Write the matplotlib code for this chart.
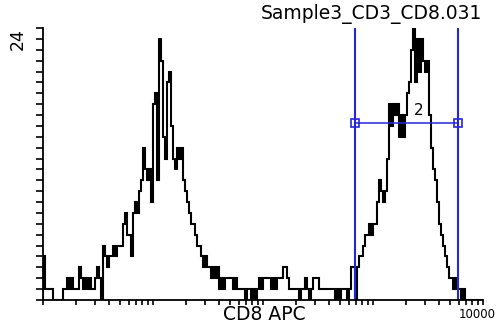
import numpy as np
import matplotlib
matplotlib.use("Agg")
import matplotlib.pyplot as plt
import matplotlib.transforms as mtransforms
from matplotlib.ticker import FixedLocator, FixedFormatter, NullFormatter

# ---- data (counts per log-spaced channel, 220 channels from 1 to 10000) ----
counts_a = [4, 1, 1, 1, 1, 0, 0, 0, 0, 0, 1, 1, 2, 1, 2, 1, 1, 1, 3, 2,
            1, 2, 1, 2, 1, 1, 2, 3, 2, 0]
counts_b = [5, 4, 3, 4, 4, 5, 4, 5, 5, 5, 7, 8, 6, 6, 4, 8, 9, 8, 10, 11,
            14, 12, 11, 12, 9, 18, 19, 11, 24, 22]
counts_c = [15, 13, 20, 21, 16, 13, 12, 14, 13, 14, 11, 10, 9, 8, 7, 7, 6, 5, 5, 4,
            3, 4, 3, 3, 2, 3, 2, 3, 1, 2]
counts_d = [1, 2, 2, 2, 2, 1, 2, 1, 1, 1, 1, 0, 1, 1, 0, 1, 0, 1, 2, 1,
            2, 2, 2, 2, 1, 2, 1, 2, 2, 2]
counts_e = [3, 3, 2, 1, 1, 1, 1, 1, 0, 1, 1, 2, 1, 0, 1, 2, 2, 2, 1, 1,
            1, 1, 1, 1, 1, 1, 0, 1, 0, 1]
counts_f = [1, 1, 0, 1, 3, 3, 0, 3, 4, 4, 5, 6, 6, 7, 6, 7, 7, 9, 11, 10,
            9, 10, 13, 18, 16, 18, 17, 18, 15, 17]
counts_g = [15, 17, 19, 20, 23, 25, 20, 24, 21, 24, 22, 21, 22, 17, 14, 12, 11, 9, 7, 6,
            5, 4, 3, 2, 2, 1, 2, 1, 1, 0, 1, 0, 0, 0, 0, 0, 0, 0, 0, 0]

x_min, x_max = 1, 10000
y_max = 25
gate_low, gate_high = 686, 5930
gate_level = 16.3
gate_name = "2"
title = "Sample3_CD3_CD8.031"
xlabel = "CD8 APC"
y_label_ticks = [24]
y_label_texts = ["24"]
x_label_ticks = [10000]
x_label_texts = ["10000"]

counts = np.array(counts_a + counts_b + counts_c + counts_d + counts_e + counts_f + counts_g)
edges = np.logspace(np.log10(x_min), np.log10(x_max), len(counts) + 1)

W, H = 498, 324
fig = plt.figure(figsize=(W / 100, H / 100), dpi=100)
fig.patch.set_facecolor("white")
ax = fig.add_axes([43 / W, (H - 300) / H, 440 / W, 272 / H])

ax.stairs(counts, edges, color="black", linewidth=1.5, baseline=0)

ax.set_xscale("log")
ax.set_xlim(x_min, x_max)
ax.set_ylim(0, y_max)

for s in ["top", "right"]:
    ax.spines[s].set_visible(False)
for s in ["left", "bottom"]:
    ax.spines[s].set_linewidth(1.3)
    ax.spines[s].set_color("black")

# x ticks: log decades with minor ticks, only 10000 labelled
major = [10 ** k for k in range(0, 5)]
minor = [m * 10 ** k for k in range(0, 4) for m in range(2, 10)]
ax.xaxis.set_major_locator(FixedLocator(major))
ax.xaxis.set_major_formatter(FixedFormatter(["" if v not in x_label_ticks else x_label_texts[x_label_ticks.index(v)] for v in major]))
ax.xaxis.set_minor_locator(FixedLocator(minor))
ax.xaxis.set_minor_formatter(NullFormatter())
ax.tick_params(axis="x", which="both", direction="out", length=3.5, width=1.2, pad=2, labelsize=8.5)
shift = mtransforms.ScaledTranslation(-6 / 100, 0, fig.dpi_scale_trans)
for lbl in ax.get_xticklabels():
    lbl.set_transform(lbl.get_transform() + shift)

# y ticks every count, only 24 labelled
yt = list(range(0, y_max + 1))
ax.yaxis.set_major_locator(FixedLocator(yt))
ax.yaxis.set_major_formatter(FixedFormatter([y_label_texts[y_label_ticks.index(v)] if v in y_label_ticks else "" for v in yt]))
ax.tick_params(axis="y", which="major", direction="out", length=5, width=1.2, pad=7, labelsize=12.5)
for lbl in ax.get_yticklabels():
    lbl.set_rotation(90)
    lbl.set_va("center")

# gate
blue = "#2626d9"
ax.vlines([gate_low, gate_high], 0, y_max, colors=blue, linewidth=1.5, clip_on=False)
ax.plot([gate_low, gate_high], [gate_level, gate_level], color=blue, linewidth=1.1,
        marker="s", markersize=6, markerfacecolor="none", markeredgecolor=blue, markeredgewidth=1.2)
ax.text(np.sqrt(gate_low * gate_high) * 1.3, gate_level + 0.4, gate_name, fontsize=11,
        ha="center", va="bottom", color="black")

fig.text(482 / W, 1 - 14 / H, title, ha="right", va="center", fontsize=13.5)
fig.text(264 / W, 1 - 314 / H, xlabel, ha="center", va="center", fontsize=13.5)

fig.savefig("out.png", dpi=100)
